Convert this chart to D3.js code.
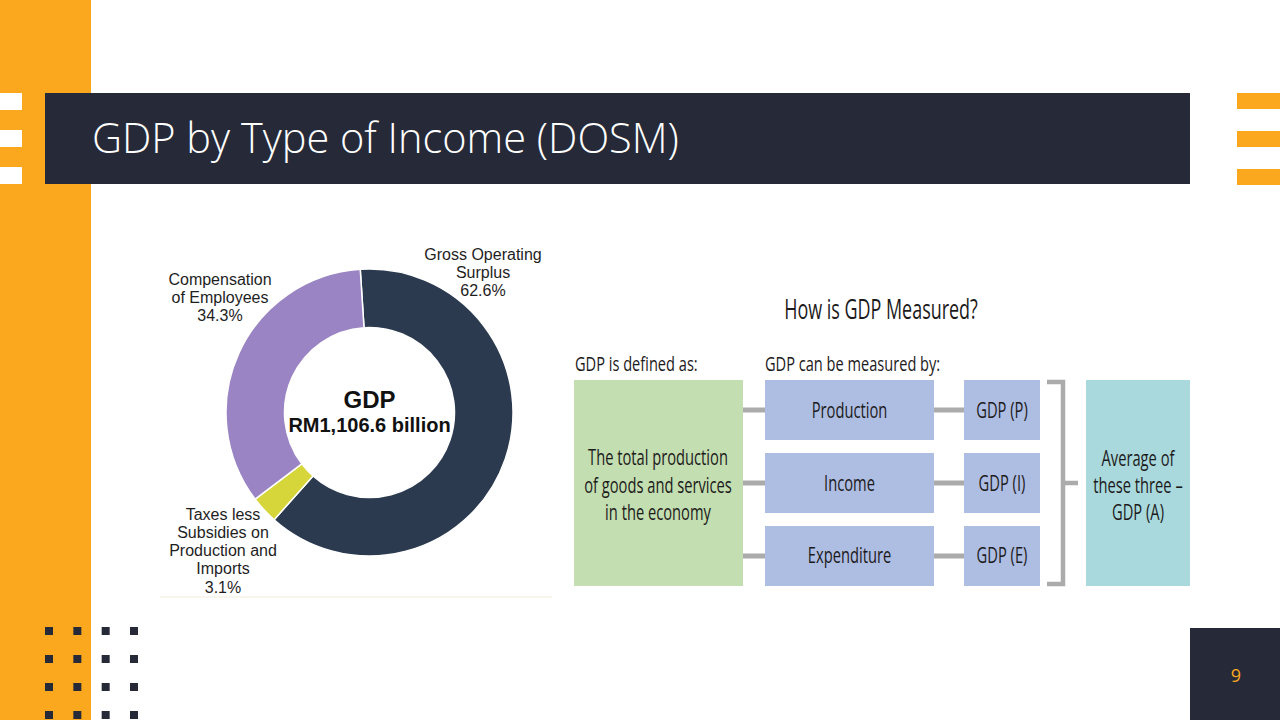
<!DOCTYPE html>
<html>
<head>
<meta charset="utf-8">
<title>GDP by Type of Income (DOSM)</title>
<script src="https://d3js.org/d3.v7.min.js"></script>
<style>
    body, html {
        margin: 0;
        padding: 0;
        width: 100%;
        height: 100%;
        overflow: hidden;
        background: #ffffff;
    }
    svg { display: block; }
    .slide-title {
        font-family: "Open Sans", sans-serif;
        font-weight: 300;
        font-size: 41.5px;
        fill: #ffffff;
    }
    .donut-label {
        font-family: "Liberation Sans", Arial, sans-serif;
        font-size: 16px;
        fill: #1e1e1e;
        text-anchor: middle;
    }
    .center-text {
        font-family: "Liberation Sans", Arial, sans-serif;
        font-weight: bold;
        fill: #111111;
        text-anchor: middle;
    }
    .cond {
        font-family: "Open Sans", sans-serif;
        fill: #1c1a1b;
    }
    .page-num {
        font-family: "Open Sans", sans-serif;
        font-size: 18px;
        fill: #fba81f;
        text-anchor: middle;
    }
</style>
</head>
<body>
<svg id="slide" width="1280" height="720"></svg>
<script>
    // ---- data ----
    const incomeTypes = ["Gross Operating Surplus", "Taxes less Subsidies on Production and Imports", "Compensation of Employees"];
    const incomeShares = [62.6, 3.1, 34.3];
    const incomeLabelLines = [
        ["Gross Operating", "Surplus"],
        ["Taxes less", "Subsidies on", "Production and", "Imports"],
        ["Compensation", "of Employees"]
    ];
    const gdpTotal = "RM1,106.6 billion";

    const diagramTitle = "How is GDP Measured?";
    const definitionHeader = "GDP is defined as:";
    const definitionLines = ["The total production", "of goods and services", "in the economy"];
    const methodsHeader = "GDP can be measured by:";
    const measureMethods = ["Production", "Income", "Expenditure"];
    const measureResults = ["GDP (P)", "GDP (I)", "GDP (E)"];
    const averageLines = ["Average of", "these three \u2013", "GDP (A)"];

    const pageNumber = "9";

    // ---- colours ----
    const orange = "#fba81f";
    const navy = "#262937";
    const sliceColor = d3.scaleOrdinal()
        .domain(incomeTypes)
        .range(["#2b3a4f", "#d6d53a", "#9a84c3"]);

    const svg = d3.select("#slide");

    // ---- slide decoration ----
    svg.append("rect").attr("x", 0).attr("y", 0).attr("width", 91).attr("height", 720).attr("fill", orange);

    [93, 130, 167].forEach(y => {
        svg.append("rect").attr("x", 0).attr("y", y).attr("width", 22).attr("height", 17).attr("fill", "#ffffff");
    });
    [93, 131, 169].forEach(y => {
        svg.append("rect").attr("x", 1237).attr("y", y).attr("width", 43).attr("height", 16).attr("fill", orange);
    });

    svg.append("rect").attr("x", 45).attr("y", 93).attr("width", 1145).attr("height", 91).attr("fill", navy);
    svg.append("text").attr("class", "slide-title").attr("x", 92).attr("y", 153)
        .text("GDP by Type of Income (DOSM)");

    // dotted square grid bottom-left
    const dotX = d3.scaleLinear().domain([0, 3]).range([45, 130]);
    const dotY = d3.scaleLinear().domain([0, 3]).range([627, 711]);
    d3.range(16).forEach(i => {
        svg.append("rect")
            .attr("x", dotX(i % 4)).attr("y", dotY(Math.floor(i / 4)))
            .attr("width", 8).attr("height", 8).attr("fill", navy);
    });

    svg.append("rect").attr("x", 1190).attr("y", 628).attr("width", 90).attr("height", 92).attr("fill", navy);
    svg.append("text").attr("class", "page-num").attr("x", 1236).attr("y", 682).text(pageNumber);

    // ---- donut ----
    const cx = 369.5, cy = 412.5;
    const outerR = 143.5, innerR = 85;
    const startDeg = -3.7;

    const pie = d3.pie()
        .sort(null)
        .value(d => d.share)
        .startAngle(startDeg * Math.PI / 180)
        .endAngle((startDeg + 360) * Math.PI / 180);

    const arc = d3.arc().innerRadius(innerR).outerRadius(outerR);

    const sliceData = incomeTypes.map((t, i) => ({ type: t, share: incomeShares[i], lines: incomeLabelLines[i] }));

    const donut = svg.append("g").attr("transform", `translate(${cx},${cy})`);

    donut.selectAll("path")
        .data(pie(sliceData))
        .enter().append("path")
        .attr("d", arc)
        .attr("fill", d => sliceColor(d.data.type))
        .attr("stroke", "#ffffff")
        .attr("stroke-width", 1.5);

    donut.append("text").attr("class", "center-text").attr("y", -5).style("font-size", "24px").text("GDP");
    donut.append("text").attr("class", "center-text").attr("y", 19).style("font-size", "20px").text(gdpTotal);

    // label placement (offset of first line from donut centre)
    const labelOffset = {
        "Gross Operating Surplus": [113.5, -153],
        "Taxes less Subsidies on Production and Imports": [-146.5, 107],
        "Compensation of Employees": [-149.5, -128]
    };
    const lineH = 18.3;

    sliceData.forEach(d => {
        const [ox, oy] = labelOffset[d.type];
        const t = donut.append("text").attr("class", "donut-label")
            .attr("x", ox).attr("y", oy);
        d.lines.concat([d.share.toFixed(1) + "%"]).forEach((ln, j) => {
            t.append("tspan").attr("x", ox).attr("y", oy + j * lineH).text(ln);
        });
    });

    // faint frame line under the donut picture
    svg.append("line").attr("x1", 160).attr("x2", 552).attr("y1", 597).attr("y2", 597)
        .attr("stroke", "#f6f3e6").attr("stroke-width", 1.5);

    // ---- diagram ----
    function condText(parent, x, y, str, size, squeeze, anchor) {
        return parent.append("text").attr("class", "cond")
            .attr("transform", `translate(${x},${y}) scale(${squeeze},1)`)
            .attr("text-anchor", anchor || "middle")
            .style("font-size", size + "px")
            .text(str);
    }

    const diag = svg.append("g");
    const rowY = d3.scaleBand().domain(measureMethods).range([380, 586]).paddingInner(0.178);
    const rowMid = m => rowY(m) + rowY.bandwidth() / 2;

    condText(diag, 881, 319, diagramTitle, 27, 0.665);
    condText(diag, 575, 371, definitionHeader, 20, 0.73, "start");
    condText(diag, 765, 371, methodsHeader, 20, 0.73, "start");

    const grey = "#ababab";

    // connector lines
    measureMethods.forEach(m => {
        diag.append("line").attr("x1", 743).attr("x2", 765).attr("y1", rowMid(m)).attr("y2", rowMid(m))
            .attr("stroke", grey).attr("stroke-width", 5);
        diag.append("line").attr("x1", 934).attr("x2", 964).attr("y1", rowMid(m)).attr("y2", rowMid(m))
            .attr("stroke", grey).attr("stroke-width", 5);
    });

    // bracket
    const brTop = rowY.range()[0] + 2, brBottom = rowY.range()[1] - 2;
    diag.append("path")
        .attr("d", `M1047,${brTop} H1063 V${brBottom} H1047 M1063,${(brTop + brBottom) / 2} H1078`)
        .attr("fill", "none").attr("stroke", grey).attr("stroke-width", 4.5);

    // definition box
    diag.append("rect").attr("x", 574).attr("y", 380).attr("width", 169).attr("height", 206).attr("fill", "#c3deb0");
    definitionLines.forEach((ln, j) => condText(diag, 658, 465 + j * 27.5, ln, 21, 0.70));

    // method and result boxes
    measureMethods.forEach((m, i) => {
        diag.append("rect").attr("x", 765).attr("y", rowY(m)).attr("width", 169).attr("height", rowY.bandwidth())
            .attr("fill", "#aebde2");
        condText(diag, 849.5, rowMid(m) + 7.5, m, 21, 0.70);
        diag.append("rect").attr("x", 964).attr("y", rowY(m)).attr("width", 76).attr("height", rowY.bandwidth())
            .attr("fill", "#aebde2");
        condText(diag, 1002, rowMid(m) + 7.5, measureResults[i], 21, 0.70);
    });

    // average box
    diag.append("rect").attr("x", 1086).attr("y", 380).attr("width", 104).attr("height", 206).attr("fill", "#a9d9dc");
    averageLines.forEach((ln, j) => condText(diag, 1138, 466 + j * 27, ln, 21, 0.70));
</script>
</body>
</html>
